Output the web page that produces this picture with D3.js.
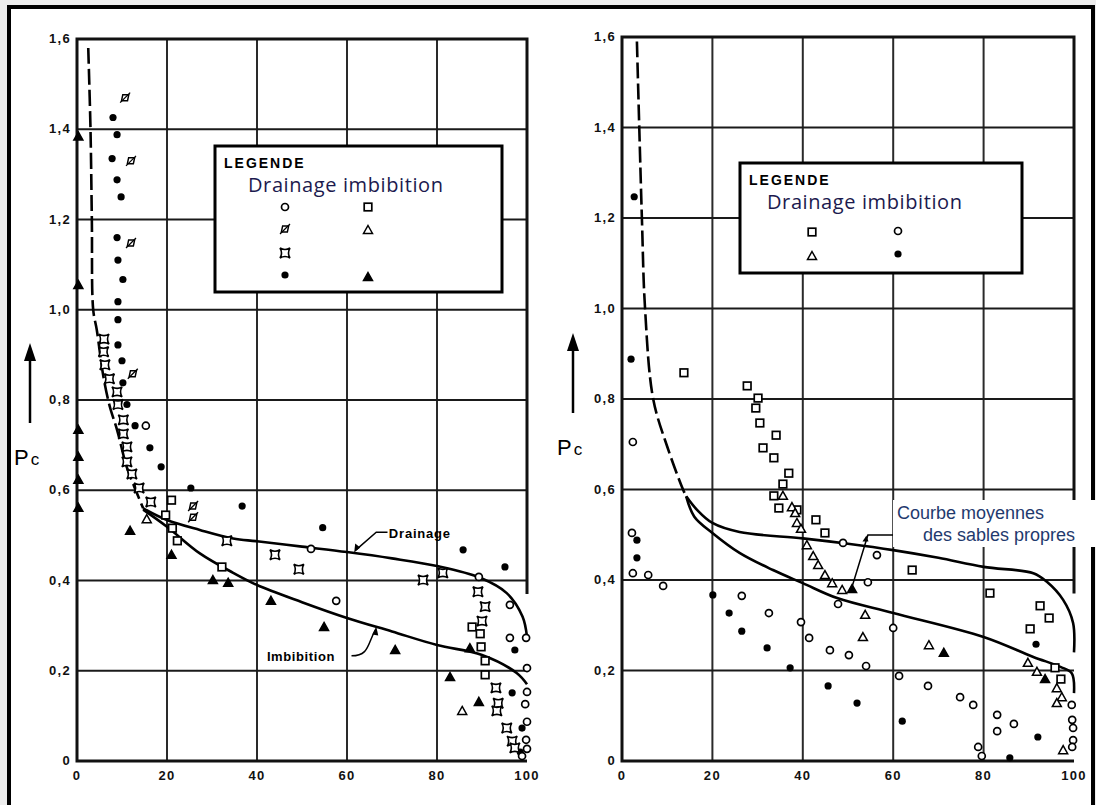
<!DOCTYPE html>
<html>
<head>
<meta charset="utf-8">
<script src="https://cdn.jsdelivr.net/npm/d3@7"></script>
<style>
  body { margin: 0; background: #fff; }
  .tick-label { font-family: "Liberation Sans", Arial, sans-serif; font-weight: bold; font-size: 13px; letter-spacing: 1.3px; fill: #111; }
  .legend-title { font-family: "Liberation Sans", Arial, sans-serif; font-weight: bold; font-size: 14px; letter-spacing: 2px; }
  .legend-sub { font-family: "Open Sans", "Noto Sans", sans-serif; font-size: 20px; letter-spacing: 0.6px; fill: #1c1a4e; }
</style>
</head>
<body>
<div class="chart"></div>
<script>
const width = 1096;
const height = 805;

// axis ticks
const xTicks = [0, 20, 40, 60, 80, 100];
const yTicks = [0, 0.2, 0.4, 0.6, 0.8, 1.0, 1.2, 1.4, 1.6];
const yTickLabels = ['0', '0,2', '0,4', '0,6', '0,8', '1,0', '1,2', '1,4', '1,6'];

// left panel - drainage points
const leftDrainCircle = [[15.3,0.743],[52,0.47],[57.6,0.355],[89.3,0.408],[96.2,0.346],[96.2,0.273],[99.8,0.273],[100,0.206],[100,0.153],[99.6,0.126],[100,0.087],[99.8,0.047],[100,0.027],[98.9,0.011]];
const leftDrainSlash = [[10.7,1.47],[12,1.33],[12,1.148],[12.4,0.858],[25.8,0.565],[25.8,0.54]];
const leftDrainStar = [[6,0.935],[5.9,0.907],[6.2,0.878],[7.2,0.847],[8.9,0.818],[9.1,0.79],[10.3,0.756],[10.3,0.725],[11.1,0.696],[11.1,0.663],[12.2,0.636],[13.8,0.605],[16.4,0.574],[33.3,0.488],[44,0.457],[49.3,0.425],[76.9,0.401],[81.3,0.417],[89.1,0.375],[90.7,0.342],[90,0.31],[93.1,0.162],[93.6,0.128],[93.3,0.111],[95.5,0.073],[96.7,0.044],[97.3,0.029]];
const leftDrainDot = [[8,1.426],[8.9,1.388],[7.8,1.335],[8.9,1.288],[9.8,1.25],[8.9,1.16],[9.1,1.11],[10.2,1.067],[9.1,1.018],[9.1,0.978],[9.1,0.922],[10,0.887],[10.2,0.838],[11.1,0.79],[12.9,0.743],[16.2,0.694],[18.7,0.652],[25.3,0.605],[36.7,0.565],[54.6,0.517],[85.8,0.468],[95.1,0.43],[96.7,0.151],[97.3,0.246],[98.9,0.073],[98.5,0.02]];
// left panel - imbibition points
const leftImbSquare = [[21,0.578],[19.7,0.545],[21.2,0.516],[22.3,0.488],[32.2,0.43],[87.8,0.297],[89.6,0.282],[89.8,0.253],[90.7,0.222],[90.7,0.191]];
const leftImbTri = [[15.5,0.536],[85.6,0.111]];
const leftImbTriFill = [[0.3,1.384],[0.3,1.055],[0.3,0.734],[0.3,0.674],[0.3,0.623],[0.3,0.561],[11.8,0.51],[21,0.457],[30.2,0.401],[33.6,0.395],[43.1,0.355],[54.9,0.297],[70.7,0.246],[87.3,0.25],[82.9,0.186],[89.3,0.131]];

// left panel curves
const leftDashed = [[2.5,1.58],[3,1.4],[3.3,1.2],[3.6,1.0],[4.4,0.955],[5.9,0.85],[7.3,0.785],[8.9,0.734],[11.1,0.65],[13.3,0.594],[14.7,0.56]];
const leftDrainCurve = [[14.7,0.56],[20,0.534],[27.3,0.512],[34.7,0.493],[40,0.487],[50,0.475],[60,0.463],[70,0.449],[80,0.432],[89.6,0.406],[95.5,0.372],[99,0.32],[100,0.275]];
const leftImbCurve = [[14.7,0.557],[20,0.519],[27.3,0.46],[34.7,0.417],[40,0.39],[50,0.352],[60,0.317],[70,0.287],[80,0.257],[90,0.235],[97.7,0.195],[100,0.17]];

// right panel - drainage points
const rightDrainSquare = [[13.7,0.858],[27.7,0.829],[30.1,0.802],[29.6,0.78],[30.5,0.747],[34.1,0.72],[31.2,0.692],[33.6,0.67],[36.9,0.636],[35.6,0.612],[33.6,0.586],[34.7,0.559],[38.7,0.555],[42.9,0.533],[44.9,0.504],[64.2,0.422],[81.4,0.371],[92.5,0.343],[94.5,0.316],[90.3,0.292],[95.8,0.206],[97.1,0.181]];
const rightDrainTri = [[35.6,0.586],[37.6,0.561],[38.3,0.548],[38.7,0.526],[39.6,0.513],[40.9,0.477],[42.3,0.453],[43.4,0.433],[44.9,0.411],[46.5,0.393],[48.7,0.378],[53.8,0.323],[53.3,0.274],[67.9,0.256],[89.8,0.217],[91.8,0.197],[96.2,0.161],[97.3,0.141],[96.2,0.128],[97.6,0.024]];
const rightDrainTriFill = [[50.9,0.38],[71.2,0.239],[93.6,0.181]];
// right panel - imbibition points
const rightImbCircle = [[2.4,0.705],[2.2,0.504],[2.4,0.415],[5.8,0.411],[9.1,0.387],[26.5,0.365],[32.5,0.327],[39.6,0.307],[41.4,0.272],[46,0.245],[48.9,0.482],[56.4,0.455],[54.4,0.395],[47.8,0.347],[50.2,0.234],[54,0.21],[60,0.294],[61.3,0.188],[67.7,0.166],[74.8,0.141],[77.7,0.124],[83,0.102],[83,0.066],[86.7,0.082],[78.8,0.031],[79.6,0.011],[99.5,0.124],[99.6,0.091],[99.8,0.073],[99.8,0.046],[99.6,0.031]];
const rightImbDot = [[2.7,1.247],[2,0.888],[3.3,0.488],[3.3,0.449],[20.1,0.367],[23.7,0.327],[26.5,0.287],[32.1,0.25],[37.2,0.206],[45.6,0.166],[52,0.128],[62,0.088],[92,0.053],[85.8,0.007],[91.6,0.258]];

// right panel curves
const rightDashed = [[3.3,1.59],[4.4,1.2],[5.1,1.0],[6.9,0.8],[10,0.695],[13.5,0.6],[14.2,0.585]];
const rightDrainCurve = [[14.2,0.585],[16.6,0.555],[20,0.526],[26,0.506],[40,0.492],[50,0.48],[60,0.466],[70,0.449],[80,0.429],[91,0.415],[94,0.396],[97.6,0.356],[99.8,0.305],[100,0.24]];
const rightImbCurve = [[14.2,0.585],[16,0.54],[20,0.504],[26,0.46],[33.4,0.422],[40,0.393],[47.6,0.36],[60,0.327],[80,0.274],[91,0.23],[97,0.208],[99.5,0.194],[100,0.15]];

const svg = d3.select('.chart').append('svg')
    .attr('width', width)
    .attr('height', height)
    .attr('viewBox', `0 0 ${width} ${height}`);

// page + outer frame
svg.append('rect').attr('width', width).attr('height', height).attr('fill', '#ededed');
svg.append('rect').attr('x', 9).attr('y', 7).attr('width', 1084).attr('height', 805).attr('fill', '#fff');
svg.append('path').attr('d', 'M9,812 L9,7 L1093,7 L1093,812')
    .attr('fill', 'none').attr('stroke', '#000').attr('stroke-width', 4);

// marker shapes
function drawMarker(g, kind, px, py) {
    const s = 3.8;
    if (kind === 'circle') {
        g.append('circle').attr('cx', px).attr('cy', py).attr('r', 3.5)
            .attr('fill', '#fff').attr('stroke', '#000').attr('stroke-width', 1.7);
    } else if (kind === 'dot') {
        g.append('circle').attr('cx', px).attr('cy', py).attr('r', 3.6).attr('fill', '#000');
    } else if (kind === 'square') {
        g.append('rect').attr('x', px - s).attr('y', py - s).attr('width', 2 * s).attr('height', 2 * s)
            .attr('fill', '#fff').attr('stroke', '#000').attr('stroke-width', 1.7);
    } else if (kind === 'slash') {
        g.append('rect').attr('x', px - 3).attr('y', py - 3).attr('width', 6).attr('height', 6)
            .attr('fill', '#fff').attr('stroke', '#000').attr('stroke-width', 1.5)
            .attr('transform', `skewX(-12) translate(${py * Math.tan(12 * Math.PI / 180)},0)`);
        g.append('line').attr('x1', px - 5).attr('y1', py + 5).attr('x2', px + 5).attr('y2', py - 5)
            .attr('stroke', '#000').attr('stroke-width', 1.3);
    } else if (kind === 'star') {
        g.append('path')
            .attr('d', `M${px - 5},${py - 5} Q${px},${py - 2} ${px + 5},${py - 5} Q${px + 2},${py} ${px + 5},${py + 5} Q${px},${py + 2} ${px - 5},${py + 5} Q${px - 2},${py} ${px - 5},${py - 5} Z`)
            .attr('fill', '#fff').attr('stroke', '#000').attr('stroke-width', 1.6);
    } else if (kind === 'tri' || kind === 'triFill') {
        g.append('path')
            .attr('d', `M${px},${py - 4.5} L${px + 4.5},${py + 3.5} L${px - 4.5},${py + 3.5} Z`)
            .attr('fill', kind === 'tri' ? '#fff' : '#000').attr('stroke', '#000').attr('stroke-width', 1.5);
    }
}

function drawPanel(cfg) {
    const x = d3.scaleLinear().domain([0, 100]).range(cfg.xRange);
    const y = d3.scaleLinear().domain([0, 1.6]).range(cfg.yRange);
    const g = svg.append('g');

    // grid
    g.selectAll('.vgrid').data(xTicks.slice(1, -1)).enter().append('line')
        .attr('x1', d => x(d)).attr('x2', d => x(d))
        .attr('y1', y(0)).attr('y2', y(1.6))
        .attr('stroke', '#2a2a2a').attr('stroke-width', 2);
    g.selectAll('.hgrid').data(yTicks.slice(1, -1)).enter().append('line')
        .attr('x1', x(0)).attr('x2', x(100))
        .attr('y1', d => y(d)).attr('y2', d => y(d))
        .attr('stroke', '#1a1a1a').attr('stroke-width', 2.2);

    // frame: left, bottom, top, partial right
    g.append('path')
        .attr('d', `M${x(100)},${y(0)} L${x(0)},${y(0)} L${x(0)},${y(1.6)} L${x(100)},${y(1.6)} L${x(100)},${y(cfg.rightEnd)}`)
        .attr('fill', 'none').attr('stroke', '#111').attr('stroke-width', 3);

    // tick labels
    g.selectAll('.xl').data(xTicks).enter().append('text')
        .attr('class', 'tick-label')
        .attr('x', d => x(d)).attr('y', y(0) + 19)
        .attr('text-anchor', 'middle')
        .text(d => d);
    g.selectAll('.yl').data(yTicks).enter().append('text')
        .attr('class', 'tick-label')
        .attr('x', x(0) - 6).attr('y', d => y(d) + 4)
        .attr('text-anchor', 'end')
        .text((d, i) => yTickLabels[i]);

    // Pc label + arrow
    const ax = cfg.arrowX;
    g.append('line').attr('x1', ax).attr('x2', ax).attr('y1', cfg.arrowY + 80).attr('y2', cfg.arrowY + 12)
        .attr('stroke', '#000').attr('stroke-width', 2.5);
    g.append('path').attr('d', `M${ax},${cfg.arrowY} L${ax + 6},${cfg.arrowY + 18} L${ax - 6},${cfg.arrowY + 18} Z`).attr('fill', '#000');
    const pc = g.append('text').attr('x', ax - 16).attr('y', cfg.arrowY + 122)
        .attr('font-family', 'Liberation Sans, Arial, sans-serif').attr('fill', '#000');
    pc.append('tspan').attr('font-size', 22).text('P');
    pc.append('tspan').attr('font-size', 17).attr('dx', 2).text('c');

    // curves
    const line = d3.line().x(d => x(d[0])).y(d => y(d[1])).curve(d3.curveCatmullRom.alpha(0.5));
    g.append('path').datum(cfg.dashed).attr('d', line)
        .attr('fill', 'none').attr('stroke', '#000').attr('stroke-width', 2.6).attr('stroke-dasharray', '16,5');
    g.append('path').datum(cfg.drain).attr('d', line)
        .attr('fill', 'none').attr('stroke', '#000').attr('stroke-width', 2.6);
    g.append('path').datum(cfg.imb).attr('d', line)
        .attr('fill', 'none').attr('stroke', '#000').attr('stroke-width', 2.6);

    // points
    cfg.series.forEach(s => {
        s.data.forEach(d => drawMarker(g, s.kind, x(d[0]), y(d[1])));
    });

    // legend
    const lg = cfg.legend;
    g.append('rect').attr('x', lg.x).attr('y', lg.y).attr('width', lg.w).attr('height', lg.h)
        .attr('fill', '#fff').attr('stroke', '#000').attr('stroke-width', 3);
    g.append('text').attr('class', 'legend-title').attr('x', lg.x + 9).attr('y', lg.y + 22).text('LEGENDE');
    g.append('text').attr('class', 'legend-sub').attr('x', lg.x + lg.subDx).attr('y', lg.y + 46).text('Drainage imbibition');
    lg.items.forEach(it => drawMarker(g, it.kind, lg.x + it.cx, lg.y + it.cy));

    return { x, y, g };
}

// ---------- left panel ----------
const left = drawPanel({
    xRange: [77, 527], yRange: [761, 39], rightEnd: 0.37,
    arrowX: 30, arrowY: 343,
    dashed: leftDashed, drain: leftDrainCurve, imb: leftImbCurve,
    series: [
        { kind: 'dot', data: leftDrainDot },
        { kind: 'star', data: leftDrainStar },
        { kind: 'slash', data: leftDrainSlash },
        { kind: 'circle', data: leftDrainCircle },
        { kind: 'square', data: leftImbSquare },
        { kind: 'tri', data: leftImbTri },
        { kind: 'triFill', data: leftImbTriFill }
    ],
    legend: {
        x: 215, y: 146, w: 287, h: 146, subDx: 33,
        items: [
            { kind: 'circle', cx: 70, cy: 61 }, { kind: 'square', cx: 153, cy: 61 },
            { kind: 'slash', cx: 70, cy: 83 }, { kind: 'tri', cx: 153, cy: 84 },
            { kind: 'star', cx: 70, cy: 107 },
            { kind: 'dot', cx: 70, cy: 129 }, { kind: 'triFill', cx: 153, cy: 131 }
        ]
    }
});

// Drainage / Imbibition callouts (left)
{
    const { x, y, g } = left;
    g.append('path')
        .attr('d', `M${x(62)},${y(0.468)} L${x(66.5)},${y(0.507)} L${x(69)},${y(0.507)}`)
        .attr('fill', 'none').attr('stroke', '#000').attr('stroke-width', 1.5);
    g.append('path').attr('d', `M${x(61.6)},${y(0.462)} l1,-9 l5,4 Z`).attr('fill', '#000');
    g.append('text').attr('x', x(69.3)).attr('y', y(0.495))
        .attr('font-family', 'Liberation Sans, Arial, sans-serif').attr('font-weight', 'bold')
        .attr('font-size', 13).attr('letter-spacing', 0.8).text('Drainage');

    g.append('path')
        .attr('d', `M${x(61)},${y(0.233)} C${x(65)},${y(0.233)} ${x(64.5)},${y(0.26)} ${x(66.3)},${y(0.29)}`)
        .attr('fill', 'none').attr('stroke', '#000').attr('stroke-width', 1.5);
    g.append('path').attr('d', `M${x(66.5)},${y(0.298)} l-4,8 l6,1 Z`).attr('fill', '#000');
    g.append('text').attr('x', x(42.2)).attr('y', y(0.222))
        .attr('font-family', 'Liberation Sans, Arial, sans-serif').attr('font-weight', 'bold')
        .attr('font-size', 13).attr('letter-spacing', 0.6).text('Imbibition');
}

// ---------- right panel ----------
const right = drawPanel({
    xRange: [622, 1074], yRange: [761, 37], rightEnd: 0.37,
    arrowX: 573, arrowY: 333,
    dashed: rightDashed, drain: rightDrainCurve, imb: rightImbCurve,
    series: [
        { kind: 'square', data: rightDrainSquare },
        { kind: 'tri', data: rightDrainTri },
        { kind: 'triFill', data: rightDrainTriFill },
        { kind: 'circle', data: rightImbCircle },
        { kind: 'dot', data: rightImbDot }
    ],
    legend: {
        x: 740, y: 163, w: 282, h: 110, subDx: 27,
        items: [
            { kind: 'square', cx: 72, cy: 69 }, { kind: 'circle', cx: 158, cy: 68 },
            { kind: 'tri', cx: 72, cy: 93 }, { kind: 'dot', cx: 158, cy: 91 }
        ]
    }
});

// "Courbe moyennes des sables propres" callout (right)
{
    const { x, y, g } = right;
    g.append('path')
        .attr('d', `M${x(64.8)},${y(0.4995)} L${x(54.4)},${y(0.4995)} L${x(50.9)},${y(0.385)}`)
        .attr('fill', 'none').attr('stroke', '#000').attr('stroke-width', 1.5);
    g.append('path').attr('d', `M${x(53.2)},${y(0.485)} l4,-6 l2,6 Z`).attr('fill', '#000');
    g.append('rect').attr('x', 893).attr('y', 500).attr('width', 203).attr('height', 47).attr('fill', '#fff');
    g.append('text').attr('x', 897).attr('y', 519)
        .attr('font-family', 'Liberation Sans, Arial, sans-serif').attr('font-size', 18)
        .attr('fill', '#1f3a6e').text('Courbe moyennes');
    g.append('text').attr('x', 923).attr('y', 541)
        .attr('font-family', 'Liberation Sans, Arial, sans-serif').attr('font-size', 18)
        .attr('fill', '#1f3a6e').text('des sables propres');
}
</script>
</body>
</html>
